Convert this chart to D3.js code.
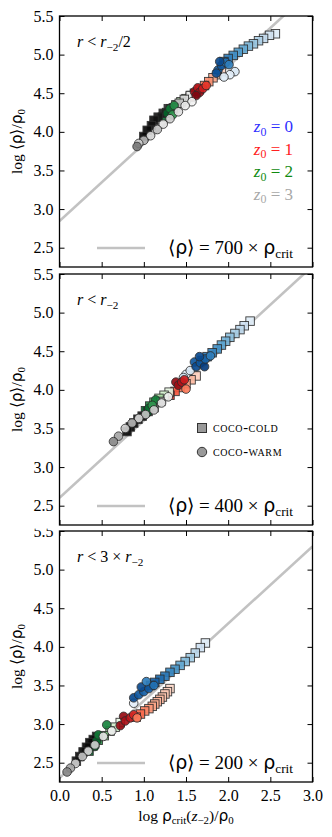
<!DOCTYPE html>
<html><head><meta charset="utf-8">
<script src="https://cdn.jsdelivr.net/npm/d3@7"></script>
<style>body{margin:0;background:#fff}svg{display:block}</style>
</head><body><svg id="c" width="332" height="837"></svg>
<script>
// ---------- data ----------
const xTicks = [0, 0.5, 1.0, 1.5, 2.0, 2.5, 3.0];
const yTicks = [2.5, 3.0, 3.5, 4.0, 4.5, 5.0, 5.5];
const densityFactors = [700, 400, 200];       // <rho> = k * rho_crit
const redshifts = [0, 1, 2, 3];
const simNames = ["coco-cold", "coco-warm"];
// points: [log rho_crit(z-2)/rho0, log <rho>/rho0, colour shade]
const p1_cold_z0 = [[2.56,5.27,0.12],[2.49,5.25,0.18],[2.42,5.21,0.25],[2.36,5.18,0.32],[2.30,5.14,0.38],[2.24,5.11,0.45],[2.18,5.07,0.52],[2.12,5.03,0.58],[2.06,4.99,0.64],[2.00,4.95,0.7],[1.95,4.91,0.76]];
const p1_warm_z0 = [[2.08,4.78,0.15],[2.02,4.74,0.1],[1.95,4.71,0.12],[1.88,4.80,0.8],[1.92,4.86,0.85],[1.97,4.90,0.75],[1.90,4.91,0.9],[2.01,4.87,0.7],[1.86,4.76,0.88]];
const p1_cold_z1 = [[1.92,4.78,0.15],[1.87,4.74,0.22],[1.82,4.70,0.3],[1.77,4.65,0.38],[1.72,4.60,0.46],[1.66,4.55,0.55],[1.60,4.50,0.62],[1.55,4.45,0.68]];
const p1_warm_z1 = [[1.60,4.52,0.9],[1.64,4.57,0.8],[1.66,4.51,0.88],[1.70,4.56,0.75],[1.74,4.60,0.65],[1.62,4.47,0.95]];
const p1_cold_z2 = [[1.56,4.47,0.12],[1.50,4.43,0.2],[1.44,4.39,0.3],[1.38,4.35,0.45],[1.32,4.30,0.6],[1.27,4.25,0.75],[1.22,4.19,0.85]];
const p1_warm_z2 = [[1.28,4.24,0.9],[1.31,4.30,0.82],[1.36,4.34,0.75],[1.34,4.22,0.7]];
const p1_cold_z3 = [[1.55,4.47,0.15],[1.48,4.42,0.25],[1.42,4.37,0.35],[1.35,4.31,0.55],[1.29,4.30,0.85],[1.23,4.24,0.9],[1.17,4.19,0.92],[1.12,4.15,0.95],[1.09,4.08,0.95],[1.04,4.02,0.97],[1.00,3.94,0.97]];
const p1_warm_z3 = [[1.57,4.39,0.1],[1.49,4.34,0.15],[1.41,4.26,0.2],[1.31,4.17,0.3],[1.23,4.10,0.2],[1.16,4.03,0.35],[1.08,3.95,0.25],[1.00,3.89,0.4],[0.94,3.85,0.3],[0.92,3.81,0.6]];

const p2_cold_z0 = [[2.26,4.89,0.12],[2.19,4.83,0.2],[2.14,4.78,0.27],[2.08,4.73,0.34],[2.02,4.68,0.41],[1.97,4.63,0.48],[1.92,4.58,0.55],[1.87,4.53,0.62],[1.81,4.48,0.68],[1.75,4.43,0.74],[1.69,4.38,0.8]];
const p2_warm_z0 = [[1.50,4.20,0.1],[1.55,4.25,0.15],[1.47,4.16,0.2],[1.60,4.36,0.85],[1.62,4.30,0.9],[1.67,4.35,0.85],[1.72,4.30,0.95],[1.73,4.40,0.8],[1.66,4.43,0.9],[1.79,4.44,0.7]];
const p2_cold_z1 = [[1.62,4.18,0.18],[1.56,4.13,0.25],[1.50,4.08,0.35],[1.43,4.03,0.45],[1.37,3.98,0.55],[1.31,3.93,0.65]];
const p2_warm_z1 = [[1.38,4.10,0.9],[1.41,4.06,0.88],[1.45,4.10,0.82],[1.48,4.13,0.75],[1.50,4.01,0.45]];
const p2_cold_z2 = [[1.30,3.97,0.1],[1.24,3.93,0.2],[1.18,3.89,0.35],[1.12,3.84,0.55],[1.07,3.79,0.75],[1.02,3.73,0.88]];
const p2_warm_z2 = [[1.04,3.70,0.9],[1.06,3.76,0.85],[1.14,3.87,0.8],[1.10,3.80,0.7]];
const p2_cold_z3 = [[1.20,3.85,0.4],[1.12,3.77,0.6],[1.05,3.72,0.85],[0.98,3.66,0.95],[0.93,3.62,0.95],[0.88,3.57,0.97],[0.84,3.52,0.97],[0.80,3.46,0.97]];
const p2_warm_z3 = [[1.29,3.91,0.12],[1.21,3.83,0.2],[1.12,3.74,0.3],[1.02,3.68,0.35],[0.94,3.63,0.25],[0.86,3.57,0.4],[0.78,3.50,0.3],[0.70,3.40,0.45],[0.64,3.33,0.55]];

const p3_cold_z0 = [[1.73,4.05,0.12],[1.67,3.99,0.2],[1.61,3.92,0.28],[1.55,3.86,0.36],[1.49,3.81,0.44],[1.43,3.76,0.52],[1.37,3.71,0.6],[1.31,3.67,0.66],[1.25,3.62,0.72],[1.19,3.58,0.77],[1.13,3.54,0.82],[1.08,3.50,0.85]];
const p3_warm_z0 = [[0.88,3.27,0.1],[0.88,3.34,0.9],[0.94,3.38,0.85],[1.00,3.42,0.82],[0.97,3.48,0.9],[1.06,3.46,0.85],[1.03,3.55,0.7],[1.12,3.50,0.75]];
const p3_cold_z1 = [[1.31,3.46,0.14],[1.28,3.42,0.17],[1.25,3.39,0.2],[1.22,3.35,0.22],[1.19,3.32,0.25],[1.16,3.29,0.27],[1.13,3.26,0.3],[1.10,3.23,0.32],[1.06,3.20,0.36],[1.01,3.17,0.42],[0.96,3.13,0.5],[0.91,3.09,0.58]];
const p3_warm_z1 = [[0.72,2.98,0.9],[0.76,3.10,0.9],[0.78,3.04,0.85],[0.84,3.08,0.8],[0.88,3.12,0.7],[0.92,3.08,0.45]];
const p3_cold_z2 = [[0.72,3.02,0.1],[0.66,2.96,0.2],[0.60,2.91,0.35],[0.53,2.85,0.5],[0.46,2.79,0.7],[0.40,2.72,0.85],[0.35,2.65,0.9]];
const p3_warm_z2 = [[0.42,2.71,0.9],[0.44,2.78,0.88],[0.46,2.86,0.82],[0.56,2.99,0.78]];
const p3_cold_z3 = [[0.44,2.84,0.95],[0.40,2.80,0.97],[0.36,2.76,0.97],[0.32,2.70,0.97],[0.28,2.64,0.97],[0.24,2.58,0.95],[0.20,2.52,0.95]];
const p3_warm_z3 = [[0.62,2.91,0.12],[0.52,2.84,0.2],[0.42,2.73,0.3],[0.34,2.65,0.25],[0.27,2.58,0.35],[0.19,2.49,0.3],[0.13,2.43,0.45],[0.09,2.38,0.55]];

const panelCold = [[p1_cold_z0,p1_cold_z1,p1_cold_z2,p1_cold_z3],[p2_cold_z0,p2_cold_z1,p2_cold_z2,p2_cold_z3],[p3_cold_z0,p3_cold_z1,p3_cold_z2,p3_cold_z3]];
const panelWarm = [[p1_warm_z0,p1_warm_z1,p1_warm_z2,p1_warm_z3],[p2_warm_z0,p2_warm_z1,p2_warm_z2,p2_warm_z3],[p3_warm_z0,p3_warm_z1,p3_warm_z2,p3_warm_z3]];

// ---------- layout / style ----------
const SERIF = "'Liberation Serif', 'Times New Roman', serif";
const SANS = "'DejaVu Sans', 'Liberation Sans', sans-serif";
const L = 59.5, R = 312.5, PH = 251;
const tops = [16, 274, 531];
const clipBands = [[0, 269], [269, 528.5], [528.5, 837]];
const cmaps = [d3.interpolateBlues, d3.interpolateReds, d3.interpolateGreens, d3.interpolateGreys];
const zColors = ["#2f2fff", "#ff2020", "#108a10", "#a8a8a8"];

const svg = d3.select("#c");
const x = d3.scaleLinear().domain([0, 3]).range([L, R]);
const defs = svg.append("defs");

function rich(sel, parts, size) {
  const t = sel.append("text").style("font-family", SERIF).style("font-size", size + "px").attr("fill", "#000");
  let shift = 0;
  parts.forEach(p => {
    const s = t.append("tspan").text(p.t);
    const target = p.sub ? size * 0.22 : 0;
    if (target !== shift) { s.attr("dy", target - shift); shift = target; }
    if (p.sub) s.style("font-size", (size * 0.7) + "px");
    if (p.i) s.style("font-style", "italic");
    if (p.sans) s.style("font-family", SANS);
  });
  return t;
}

const panelTitles = [
  [{t:"r",i:1},{t:" < "},{t:"r",i:1},{t:"−2",sub:1},{t:"/2"}],
  [{t:"r",i:1},{t:" < "},{t:"r",i:1},{t:"−2",sub:1}],
  [{t:"r",i:1},{t:" < 3 × "},{t:"r",i:1},{t:"−2",sub:1}]
];

[2, 1, 0].forEach(pi => {
  const top = tops[pi], bot = top + PH;
  const y = d3.scaleLinear().domain([2.25, 5.5]).range([bot, top]);
  const band = clipBands[pi];
  defs.append("clipPath").attr("id", "band" + pi).append("rect")
    .attr("x", 0).attr("y", band[0]).attr("width", 332).attr("height", band[1] - band[0]);
  defs.append("clipPath").attr("id", "plot" + pi).append("rect")
    .attr("x", L).attr("y", top).attr("width", R - L).attr("height", PH);
  const g = svg.append("g").attr("clip-path", `url(#band${pi})`);
  g.append("rect").attr("x", 0).attr("y", band[0]).attr("width", 332).attr("height", band[1] - band[0]).attr("fill", "#fff");

  const plot = g.append("g").attr("clip-path", `url(#plot${pi})`);
  const k = Math.log10(densityFactors[pi]);
  plot.append("path").datum([0, 3])
    .attr("d", d3.line().x(d => x(d)).y(d => y(d + k)))
    .attr("stroke", "#c2c2c2").attr("stroke-width", 2.6).attr("fill", "none");

  const S = 8.5;
  panelCold[pi].forEach((arr, zi) => {
    plot.append("g").selectAll("rect").data(arr).join("rect")
      .attr("x", d => x(d[0]) - S / 2).attr("y", d => y(d[1]) - S / 2)
      .attr("width", S).attr("height", S)
      .attr("fill", d => cmaps[zi](d[2])).attr("stroke", "#2a2a2a").attr("stroke-width", 0.9)
      .attr("opacity", 0.92);
  });
  panelWarm[pi].forEach((arr, zi) => {
    plot.append("g").selectAll("circle").data(arr).join("circle")
      .attr("cx", d => x(d[0])).attr("cy", d => y(d[1])).attr("r", 4.3)
      .attr("fill", d => cmaps[zi](d[2])).attr("stroke", "#2a2a2a").attr("stroke-width", 0.9)
      .attr("opacity", 0.92);
  });

  const yl = g.append("g").attr("transform", `translate(${L},0)`)
    .call(d3.axisLeft(y).tickValues(yTicks).tickFormat(d3.format(".1f")).tickSize(-5).tickPadding(6));
  const yr = g.append("g").attr("transform", `translate(${R},0)`)
    .call(d3.axisRight(y).tickValues(yTicks).tickFormat("").tickSize(-5));
  const xt = g.append("g").attr("transform", `translate(0,${top})`)
    .call(d3.axisTop(x).tickValues(xTicks).tickFormat("").tickSize(-5));
  const xb = g.append("g").attr("transform", `translate(0,${bot})`)
    .call(d3.axisBottom(x).tickValues(xTicks).tickFormat(pi === 2 ? d3.format(".1f") : "").tickSize(-5).tickPadding(8));
  [yl, yr, xt, xb].forEach(a => {
    a.attr("font-family", null).attr("font-size", null);
    a.select(".domain").remove();
    a.selectAll(".tick line").attr("stroke", "#000").attr("stroke-width", 1);
    a.selectAll("text").style("font-family", SERIF).style("font-size", "16px").attr("fill", "#000");
  });
  g.append("rect").attr("x", L).attr("y", top).attr("width", R - L).attr("height", PH)
    .attr("fill", "none").attr("stroke", "#000").attr("stroke-width", 1.3);

  rich(g, panelTitles[pi], 16).attr("x", 77).attr("y", top + 31);

  rich(g, [{t:"log "},{t:"⟨"},{t:"ρ",sans:1},{t:"⟩/"},{t:"ρ",sans:1},{t:"0",sub:1}], 15.5)
    .attr("text-anchor", "middle").attr("transform", `translate(22,${top + PH / 2}) rotate(-90)`);

  const ly = top + 232;
  g.append("line").attr("x1", 97).attr("x2", 145).attr("y1", ly).attr("y2", ly)
    .attr("stroke", "#c2c2c2").attr("stroke-width", 2.6);
  rich(g, [{t:"⟨"},{t:"ρ",sans:1},{t:"⟩ = " + densityFactors[pi] + " × "},{t:"ρ",sans:1},{t:"crit",sub:1}], 19)
    .attr("text-anchor", "end").attr("x", 293).attr("y", ly + 6);

  if (pi === 0) {
    redshifts.forEach((z, i) => {
      rich(g, [{t:"z",i:1},{t:"0",sub:1},{t:" = " + z}], 17)
        .attr("fill", zColors[i]).attr("text-anchor", "end").attr("x", 293).attr("y", top + 116 + i * 22.5);
    });
  }
  if (pi === 1) {
    simNames.forEach((nm, i) => {
      const cy = top + 154 + i * 24;
      if (i === 0) g.append("rect").attr("x", 197.5).attr("y", cy - 4.5).attr("width", 9).attr("height", 9)
        .attr("fill", "#999").attr("stroke", "#333").attr("stroke-width", 1);
      else g.append("circle").attr("cx", 202).attr("cy", cy).attr("r", 4.7)
        .attr("fill", "#999").attr("stroke", "#333").attr("stroke-width", 1);
      g.append("text").attr("x", 213).attr("y", cy + 4).style("font-family", SERIF)
        .style("font-size", "14.5px").style("font-variant", "small-caps").attr("letter-spacing", 0.6)
        .text(nm.toLowerCase());
    });
  }
  if (pi === 2) {
    rich(g, [{t:"log "},{t:"ρ",sans:1},{t:"crit",sub:1},{t:"("},{t:"z",i:1},{t:"−2",sub:1},{t:")/"},{t:"ρ",sans:1},{t:"0",sub:1}], 15.5)
      .attr("text-anchor", "middle").attr("x", 186).attr("y", 821);
  }
});
</script></body></html>
